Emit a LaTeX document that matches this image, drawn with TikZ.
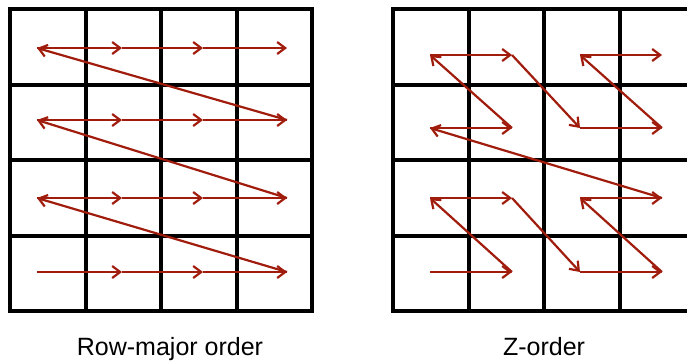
\documentclass[tikz,border=0pt]{standalone}
\usepackage{fontspec}
\setmainfont{Liberation Sans}
\usetikzlibrary{arrows.meta}
\definecolor{arr}{RGB}{160,28,12}
\tikzset{
  gridline/.style={line width=4pt, black, line cap=rect},
  flow/.style={arr, line width=2.2pt, -{Straight Barb[length=8pt,width=12pt]}},
  caption/.style={font=\fontsize{25}{30}\selectfont, anchor=base, inner sep=0pt}
}
\begin{document}
\begin{tikzpicture}[x=1pt,y=-1pt]
\useasboundingbox (0,0) rectangle (687,360);
\begin{scope}
\clip (0,0) rectangle (687,360);
% grids
\foreach \i in {0,...,4} {
  \draw[gridline] ({10+75.5*\i},9) -- ({10+75.5*\i},311);
  \draw[gridline] (10,{9+75.5*\i}) -- (312,{9+75.5*\i});
  \draw[gridline] ({393+75.5*\i},9) -- ({393+75.5*\i},311);
  \draw[gridline] (393,{9+75.5*\i}) -- (700,{9+75.5*\i});
}
% left coordinates
\foreach \r/\y in {1/48,2/120,3/198,4/272} {
  \foreach \c/\x in {1/37,2/122,3/203,4/287} {
    \coordinate (L\r\c) at (\x,\y);
  }
}
% right coordinates
\foreach \r/\y in {1/55,2/128,3/198,4/272} {
  \foreach \c/\x in {1/430,2/512,3/580,4/662} {
    \coordinate (R\r\c) at (\x,\y);
  }
}
% row-major
\foreach \r in {4,3,2,1} {
  \draw[flow] (L\r1) -- (L\r2);
  \draw[flow] (L\r2) -- (L\r3);
  \draw[flow] (L\r3) -- (L\r4);
}
\draw[flow] (L44) -- (L31);
\draw[flow] (L34) -- (L21);
\draw[flow] (L24) -- (L11);
% Z-order
\draw[flow] (R41) -- (R42);
\draw[flow] (R42) -- (R31);
\draw[flow] (R31) -- (R32);
\draw[flow] (R32) -- (R43);
\draw[flow] (R43) -- (R44);
\draw[flow] (R44) -- (R33);
\draw[flow] (R33) -- (R34);
\draw[flow] (R34) -- (R21);
\draw[flow] (R21) -- (R22);
\draw[flow] (R22) -- (R11);
\draw[flow] (R11) -- (R12);
\draw[flow] (R12) -- (R23);
\draw[flow] (R23) -- (R24);
\draw[flow] (R24) -- (R13);
\draw[flow] (R13) -- (R14);
\end{scope}
\node[caption] (cap1) at (170,355) {Row-major order};
\node[caption] (cap2) at (544,355) {Z-order};
\end{tikzpicture}
\end{document}
